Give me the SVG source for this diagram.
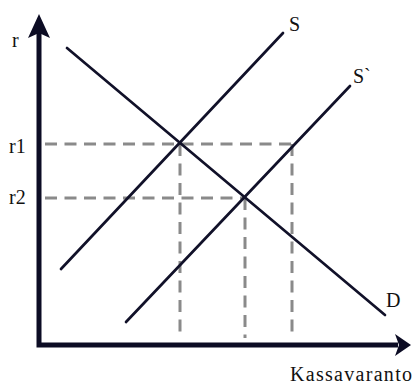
<svg xmlns="http://www.w3.org/2000/svg" width="415" height="385" viewBox="0 0 415 385">
<style>
.axis{stroke:#0c0c24;stroke-width:5;fill:none}
.head{fill:#0c0c24}
.curve{stroke:#111129;stroke-width:2.7;fill:none;stroke-linecap:round}
.dash{stroke:#8a8a8a;stroke-width:3;fill:none;stroke-dasharray:12 7.5}
text{font-family:"Liberation Serif","Times New Roman",serif;font-size:20px;fill:#111}
</style>
<rect width="415" height="385" fill="#fff"/>
<g id="guides">
<path class="dash" d="M45 144H292M45 198H245M180 144V338M245 198V338M292 144V338"/>
</g>
<g id="axes">
<path class="axis" d="M39 32V345H398"/>
<path class="head" d="M39 14L50 38L39 33L28 38Z"/>
<path class="head" d="M411 345L395 334L399 345L395 356Z"/>
<text x="12" y="47">r</text>
<text x="290" y="381" textLength="122" lengthAdjust="spacing">Kassavaranto</text>
<text x="9" y="153">r1</text>
<text x="9" y="204">r2</text>
</g>
<g id="S">
<line class="curve" x1="61" y1="269" x2="283" y2="33"/>
<text x="289" y="31">S</text>
</g>
<g id="S2">
<line class="curve" x1="126" y1="322" x2="350" y2="86"/>
<text x="353" y="83">S`</text>
</g>
<g id="D">
<line class="curve" x1="67" y1="48" x2="385" y2="315"/>
<text x="386" y="307">D</text>
</g>
</svg>
